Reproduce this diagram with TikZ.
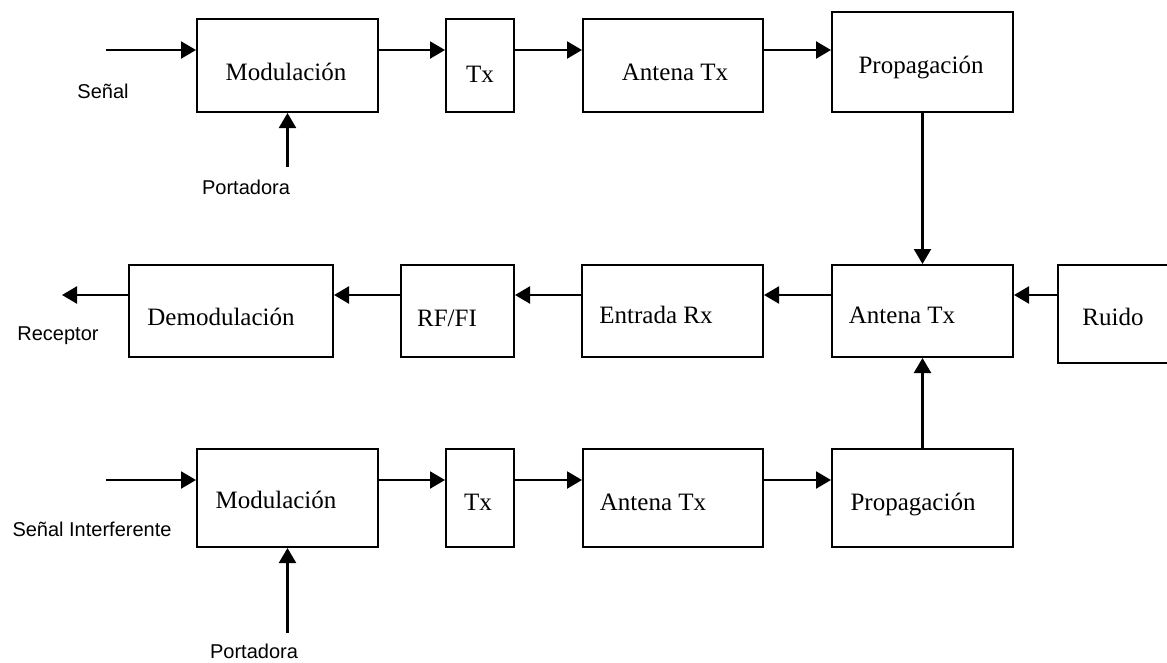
\documentclass[tikz,border=0pt]{standalone}
\usepackage{fontspec}
\setmainfont{Liberation Serif}
\setsansfont{Liberation Sans}
\usetikzlibrary{arrows.meta}
\begin{document}
\begin{tikzpicture}[x=1pt,y=-1pt,
  blk/.style={draw, line width=2pt, inner sep=0pt},
  txt/.style={font=\fontsize{25}{30}\selectfont, anchor=base, inner sep=0pt},
  lab/.style={font=\sffamily\fontsize{20}{24}\selectfont, anchor=base, inner sep=0pt},
  arr/.style={line width=2.2pt, -{Triangle[length=15pt,width=17pt]}},
]
\useasboundingbox (0,0) rectangle (1167,662);
\clip (0,0) rectangle (1167,662);
\fill[white] (0,0) rectangle (1167,662);

% Row 1
\node[blk, minimum width=181pt, minimum height=93pt] (mod1) at (287.5,65.5) {};
\node[blk, minimum width=68pt, minimum height=93pt] (tx1) at (480,65.5) {};
\node[blk, minimum width=180pt, minimum height=93pt] (ant1) at (673,65.5) {};
\node[blk, minimum width=181pt, minimum height=100pt] (prop1) at (922.5,62) {};
\node[txt] (tmod1) at (286,80) {Modulación};
\node[txt] (ttx1) at (480,82) {Tx};
\node[txt] (tant1) at (675,80) {Antena Tx};
\node[txt] (tprop1) at (921,73) {Propagación};

% Row 2
\node[blk, minimum width=204pt, minimum height=92pt] (demod) at (231,311) {};
\node[blk, minimum width=113pt, minimum height=92pt] (rffi) at (457.5,311) {};
\node[blk, minimum width=181pt, minimum height=92pt] (entrada) at (672.5,311) {};
\node[blk, minimum width=181pt, minimum height=92pt] (ant2) at (922.5,311) {};
\node[blk, minimum width=130pt, minimum height=98pt] (ruido) at (1123,314) {};
\node[txt] (tdemod) at (221,325) {Demodulación};
\node[txt] (trffi) at (447,326) {RF/FI};
\node[txt] (tentrada) at (656,323) {Entrada Rx};
\node[txt] (tant2) at (902,323) {Antena Tx};
\node[txt] (truido) at (1113,325) {Ruido};

% Row 3
\node[blk, minimum width=181pt, minimum height=98pt] (mod3) at (287.5,498) {};
\node[blk, minimum width=68pt, minimum height=98pt] (tx3) at (480,498) {};
\node[blk, minimum width=180pt, minimum height=98pt] (ant3) at (673,498) {};
\node[blk, minimum width=181pt, minimum height=98pt] (prop3) at (922.5,498) {};
\node[txt] (tmod3) at (276,508) {Modulación};
\node[txt] (ttx3) at (478,510) {Tx};
\node[txt] (tant3) at (653,510) {Antena Tx};
\node[txt] (tprop3) at (913,510) {Propagación};

% Labels
\node[lab] (senal) at (103,98) {Señal};
\node[lab] (port1) at (246,194) {Portadora};
\node[lab] (recep) at (58,340) {Receptor};
\node[lab] (senint) at (92,536) {Señal Interferente};
\node[lab] (port3) at (254,658) {Portadora};

% Free ends
\coordinate (in1) at (106,50);
\coordinate (pin1) at (287.5,167);
\coordinate (out2) at (62,295);
\coordinate (in3) at (106,480);
\coordinate (pin3) at (287.5,633);

% Row 1 connectors
\draw[arr] (in1) -- (mod1.west |- in1);
\draw[arr] (pin1) -- (mod1.south);
\draw[arr] (mod1.east |- in1) -- (tx1.west |- in1);
\draw[arr] (tx1.east |- in1) -- (ant1.west |- in1);
\draw[arr] (ant1.east |- in1) -- (prop1.west |- in1);
\draw[arr] (prop1.south) -- (ant2.north);

% Row 2 connectors
\draw[arr] (ruido.west |- out2) -- (ant2.east |- out2);
\draw[arr] (ant2.west |- out2) -- (entrada.east |- out2);
\draw[arr] (entrada.west |- out2) -- (rffi.east |- out2);
\draw[arr] (rffi.west |- out2) -- (demod.east |- out2);
\draw[arr] (demod.west |- out2) -- (out2);

% Row 3 connectors
\draw[arr] (in3) -- (mod3.west |- in3);
\draw[arr] (pin3) -- (mod3.south);
\draw[arr] (mod3.east |- in3) -- (tx3.west |- in3);
\draw[arr] (tx3.east |- in3) -- (ant3.west |- in3);
\draw[arr] (ant3.east |- in3) -- (prop3.west |- in3);
\draw[arr] (prop3.north) -- (ant2.south);
\end{tikzpicture}
\end{document}
